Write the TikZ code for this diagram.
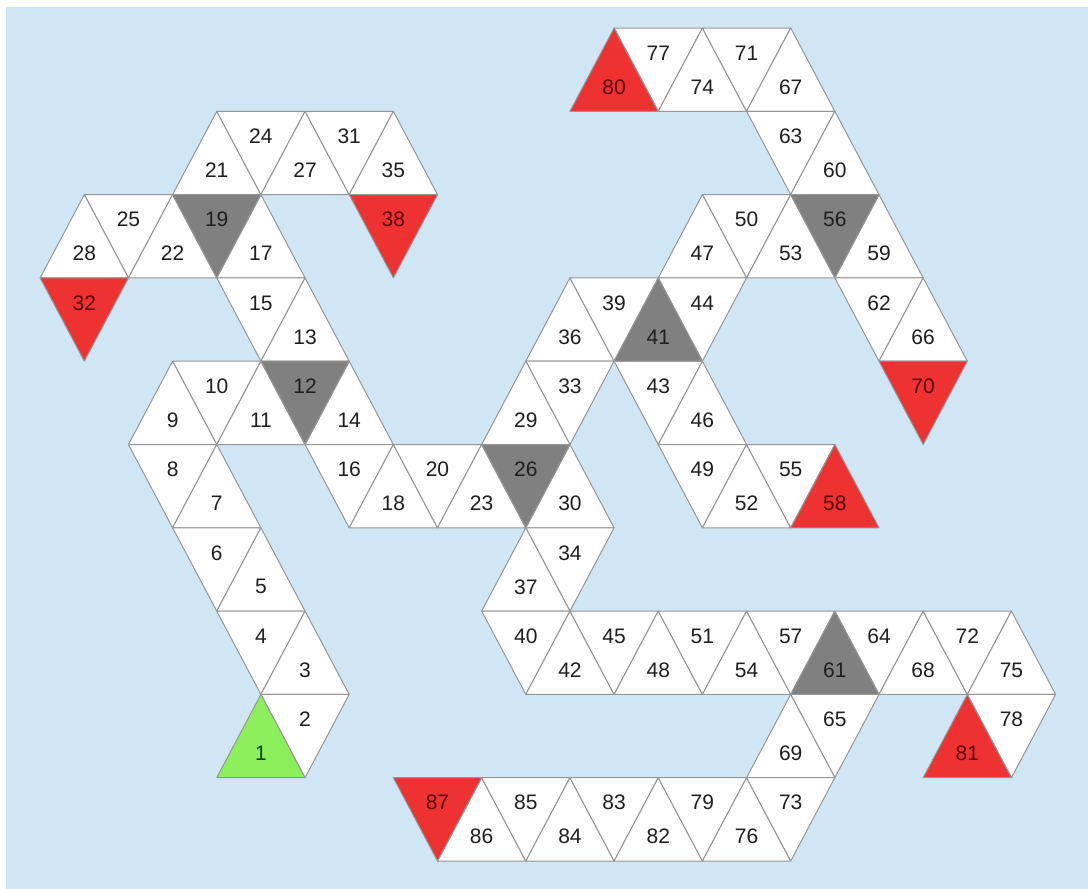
\documentclass[tikz,border=0pt]{standalone}
\usepackage{fontspec}
\setmainfont{Liberation Sans}
\definecolor{BoardBlue}{RGB}{208,230,244}
\definecolor{TrapRed}{RGB}{238,50,50}
\definecolor{StartGreen}{RGB}{140,238,90}
\definecolor{BlockGray}{RGB}{128,128,128}
\definecolor{EdgeGray}{RGB}{150,150,150}

\begin{document}
\begin{tikzpicture}[
  x=1pt, y=-1pt,
  cell/.style={fill=white, draw=EdgeGray, line width=1pt, line join=round},
  blocked/.style={cell, fill=BlockGray},
  trap/.style={cell, fill=TrapRed},
  start/.style={cell, fill=StartGreen},
  lbl/.style={font=\fontsize{21}{24}\selectfont, text=black!88, inner sep=0pt},
  traplbl/.style={lbl, text=red!35!black},
  startlbl/.style={lbl, text=green!25!black}
]
\useasboundingbox (0,0) rectangle (1088,889);
\fill[white] (0,0) rectangle (1088,889);
\fill[BoardBlue] (6,7) rectangle (1088,889);

% one triangle per square: column k, band r, number, fill style, label style
\foreach \k/\r/\num/\sty/\lsty in {
  15/0/77/cell/lbl, 16/0/74/cell/lbl, 17/0/71/cell/lbl, 18/0/67/cell/lbl,
  5/1/21/cell/lbl, 6/1/24/cell/lbl, 7/1/27/cell/lbl, 8/1/31/cell/lbl,
  9/1/35/cell/lbl, 18/1/63/cell/lbl, 19/1/60/cell/lbl,
  3/2/25/cell/lbl, 2/2/28/cell/lbl, 4/2/22/cell/lbl, 6/2/17/cell/lbl,
  17/2/50/cell/lbl, 16/2/47/cell/lbl, 18/2/53/cell/lbl, 20/2/59/cell/lbl,
  6/3/15/cell/lbl, 7/3/13/cell/lbl, 13/3/36/cell/lbl, 14/3/39/cell/lbl,
  16/3/44/cell/lbl, 20/3/62/cell/lbl, 21/3/66/cell/lbl,
  5/4/10/cell/lbl, 4/4/9/cell/lbl, 6/4/11/cell/lbl, 8/4/14/cell/lbl,
  13/4/33/cell/lbl, 12/4/29/cell/lbl, 15/4/43/cell/lbl, 16/4/46/cell/lbl,
  4/5/8/cell/lbl, 5/5/7/cell/lbl, 8/5/16/cell/lbl, 9/5/18/cell/lbl,
  10/5/20/cell/lbl, 11/5/23/cell/lbl, 13/5/30/cell/lbl, 16/5/49/cell/lbl,
  17/5/52/cell/lbl, 18/5/55/cell/lbl,
  5/6/6/cell/lbl, 6/6/5/cell/lbl, 13/6/34/cell/lbl, 12/6/37/cell/lbl,
  6/7/4/cell/lbl, 7/7/3/cell/lbl, 12/7/40/cell/lbl, 13/7/42/cell/lbl,
  14/7/45/cell/lbl, 15/7/48/cell/lbl, 16/7/51/cell/lbl, 17/7/54/cell/lbl,
  18/7/57/cell/lbl, 20/7/64/cell/lbl, 21/7/68/cell/lbl, 22/7/72/cell/lbl,
  23/7/75/cell/lbl,
  7/8/2/cell/lbl, 19/8/65/cell/lbl, 18/8/69/cell/lbl, 23/8/78/cell/lbl,
  11/9/86/cell/lbl, 12/9/85/cell/lbl, 13/9/84/cell/lbl, 14/9/83/cell/lbl,
  15/9/82/cell/lbl, 16/9/79/cell/lbl, 17/9/76/cell/lbl, 18/9/73/cell/lbl,
  5/2/19/blocked/lbl, 7/4/12/blocked/lbl, 12/5/26/blocked/lbl,
  15/3/41/blocked/lbl, 19/2/56/blocked/lbl, 19/7/61/blocked/lbl,
  14/0/80/trap/traplbl, 9/2/38/trap/traplbl, 2/3/32/trap/traplbl,
  21/4/70/trap/traplbl, 19/5/58/trap/traplbl, 22/8/81/trap/traplbl,
  10/9/87/trap/traplbl,
  6/8/1/start/startlbl} {
  \pgfmathsetmacro\xc{44.15*\k-4}
  \pgfmathsetmacro\xl{44.15*(\k-1)-4}
  \pgfmathsetmacro\xr{44.15*(\k+1)-4}
  \pgfmathsetmacro\yt{28+83.3*\r}
  \pgfmathsetmacro\yb{28+83.3*(\r+1)}
  \pgfmathtruncatemacro\updown{mod(\k+\r,2)}
  \ifnum\updown=0
    \draw[\sty] (\xc,\yt) -- (\xr,\yb) -- (\xl,\yb) -- cycle;
    \node[\lsty] (t\num) at (\xc,\yt+59) {\num};
  \else
    \draw[\sty] (\xl,\yt) -- (\xr,\yt) -- (\xc,\yb) -- cycle;
    \node[\lsty] (t\num) at (\xc,\yt+25) {\num};
  \fi
}
\end{tikzpicture}
\end{document}
